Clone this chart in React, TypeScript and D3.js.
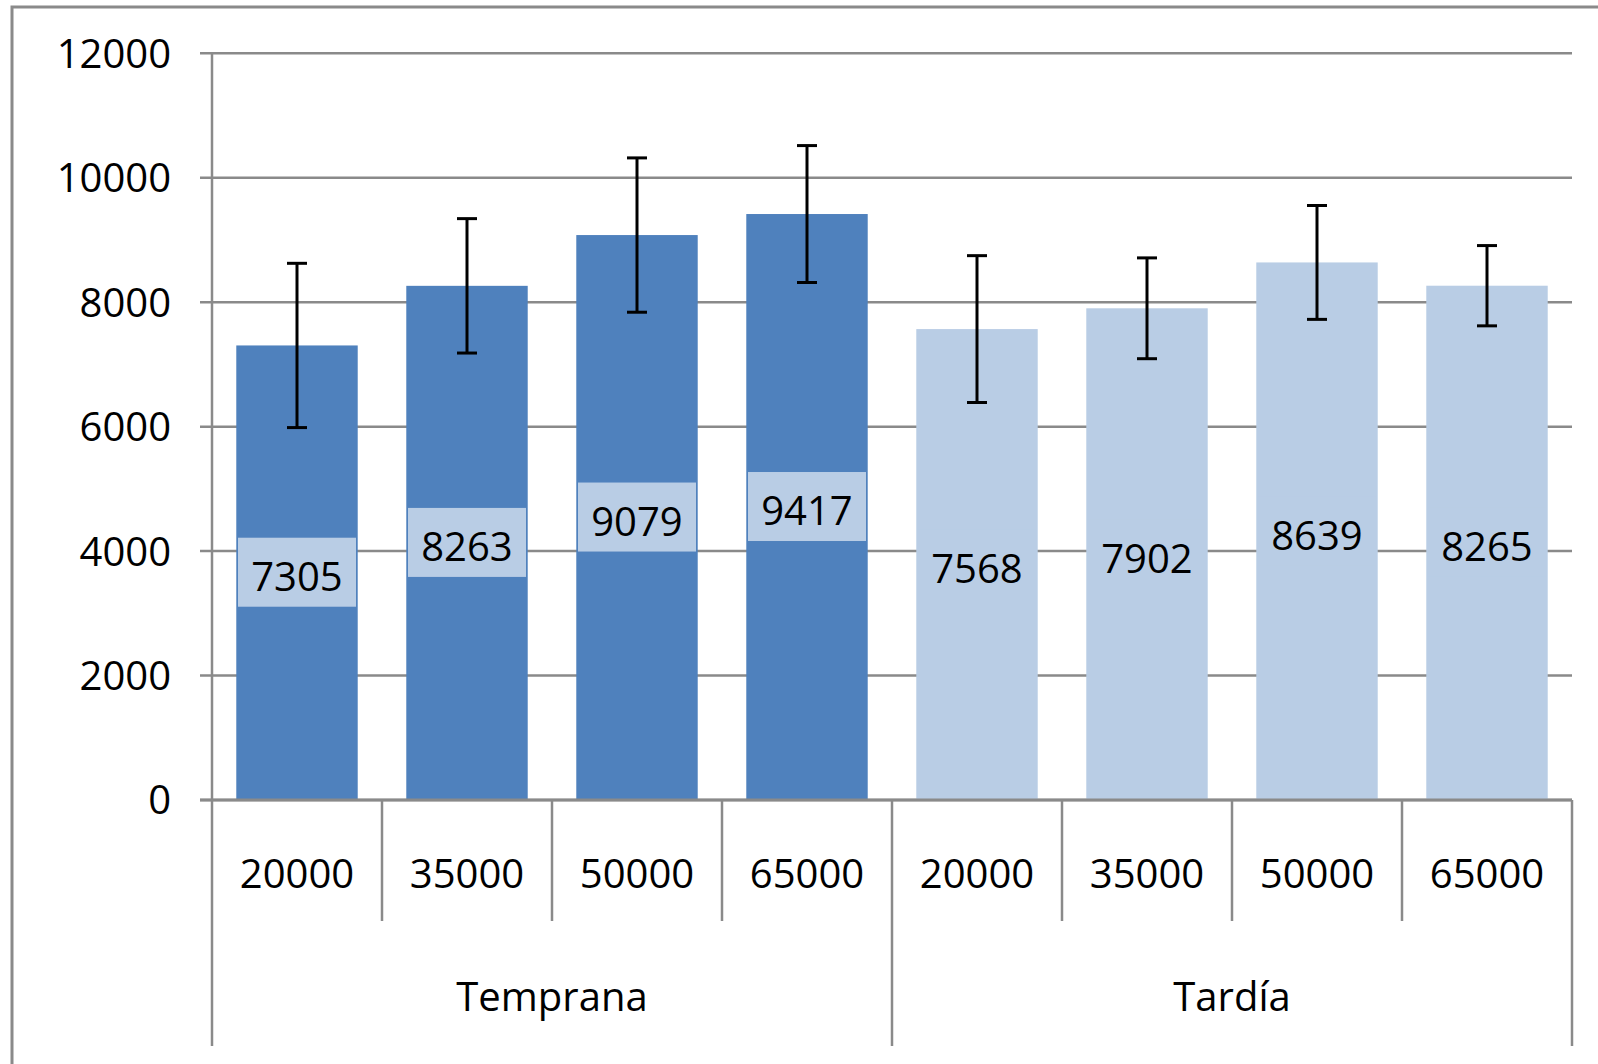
import React from "react";
import * as d3 from "d3";

const groups = ["Temprana", "Tardía"];
const doses = ["20000", "35000", "50000", "65000"];
const tempranaValues = [7305, 8263, 9079, 9417];
const tardiaValues = [7568, 7902, 8639, 8265];
const tempranaErr = [1320, 1080, 1240, 1100];
const tardiaErr = [1180, 810, 915, 645];
const yTicks = [0, 2000, 4000, 6000, 8000, 10000, 12000];

const W = 1598;
const H = 1064;
const left = 212;
const right = 1572;
const top = 53.3;
const base = 800;
const FONT = "'Open Sans', 'Noto Sans', sans-serif";
const GRID = "#8a8a8a";
const DARK = "#4F81BD";
const LIGHT = "#B9CDE5";

type Row = { group: number; dose: string; value: number; err: number; idx: number };

const rows: Row[] = [];
groups.forEach((g, gi) => {
  const vals = gi === 0 ? tempranaValues : tardiaValues;
  const errs = gi === 0 ? tempranaErr : tardiaErr;
  doses.forEach((d, di) => {
    rows.push({ group: gi, dose: d, value: vals[di], err: errs[di], idx: gi * doses.length + di });
  });
});

export default function App() {
  const pad = 0.4 / 1.4;
  const x = d3
    .scaleBand<number>()
    .domain(rows.map((r) => r.idx))
    .range([left, right])
    .paddingInner(pad)
    .paddingOuter(pad / 2);
  const step = x.step();
  const bw = x.bandwidth();
  const y = d3.scaleLinear().domain([0, 12000]).range([base, top]);

  const catBottom = 921;
  const grpBottom = 1046;

  return (
    <div style={{ position: "absolute", left: 0, top: 0 }}>
      <svg width={W} height={H} style={{ display: "block", background: "#fff" }}>
        <rect x={12} y={7} width={2000} height={2000} fill="#fff" stroke={GRID} strokeWidth={3} />
        {/* gridlines */}
        {yTicks.map((t) => (
          <line key={"g" + t} x1={200} x2={right} y1={y(t)} y2={y(t)} stroke={GRID} strokeWidth={2.5} />
        ))}
        {/* y labels */}
        {yTicks.map((t) => (
          <text
            key={"yl" + t}
            x={171}
            y={y(t)}
            dy="0.36em"
            textAnchor="end"
            fontFamily={FONT}
            fontSize={40}
            fill="#000"
          >
            {t}
          </text>
        ))}
        {/* bars */}
        {rows.map((r) => (
          <rect
            key={"b" + r.idx}
            x={(x(r.idx) as number)}
            y={y(r.value)}
            width={bw}
            height={base - y(r.value)}
            fill={r.group === 0 ? DARK : LIGHT}
          />
        ))}
        {/* axes */}
        <line x1={left} x2={left} y1={top} y2={grpBottom} stroke={GRID} strokeWidth={2.5} />
        <line x1={200} x2={right} y1={base} y2={base} stroke={GRID} strokeWidth={3} />
        {rows.map((r, i) => {
          const xb = left + step * i;
          if (i === 0) return null;
          const isGroup = i % doses.length === 0;
          return (
            <line
              key={"t" + i}
              x1={xb}
              x2={xb}
              y1={base}
              y2={isGroup ? grpBottom : catBottom}
              stroke={GRID}
              strokeWidth={2.5}
            />
          );
        })}
        <line x1={right} x2={right} y1={base} y2={grpBottom} stroke={GRID} strokeWidth={2.5} />
        {/* error bars */}
        {rows.map((r) => {
          const cx = (x(r.idx) as number) + bw / 2;
          const y1 = y(r.value + r.err);
          const y2 = y(r.value - r.err);
          return (
            <g key={"e" + r.idx} stroke="#000" strokeWidth={3}>
              <line x1={cx} x2={cx} y1={y1} y2={y2} />
              <line x1={cx - 10} x2={cx + 10} y1={y1} y2={y1} />
              <line x1={cx - 10} x2={cx + 10} y1={y2} y2={y2} />
            </g>
          );
        })}
        {/* data labels */}
        {rows.map((r) => {
          const cx = (x(r.idx) as number) + bw / 2;
          const my = y(r.value / 2);
          return (
            <g key={"l" + r.idx}>
              <rect x={cx - 59} y={my - 35} width={118} height={69} fill={LIGHT} />
              <text
                x={cx}
                y={my + 4}
                dy="0.36em"
                textAnchor="middle"
                fontFamily={FONT}
                fontSize={40}
                fill="#000"
              >
                {r.value}
              </text>
            </g>
          );
        })}
        {/* category labels */}
        {rows.map((r) => (
          <text
            key={"c" + r.idx}
            x={(x(r.idx) as number) + bw / 2}
            y={874}
            dy="0.36em"
            textAnchor="middle"
            fontFamily={FONT}
            fontSize={40}
            fill="#000"
          >
            {r.dose}
          </text>
        ))}
        {groups.map((g, gi) => (
          <text
            key={"gl" + gi}
            x={left + step * doses.length * (gi + 0.5)}
            y={997}
            dy="0.36em"
            textAnchor="middle"
            fontFamily={FONT}
            fontSize={40}
            fill="#000"
          >
            {g}
          </text>
        ))}
      </svg>
    </div>
  );
}
